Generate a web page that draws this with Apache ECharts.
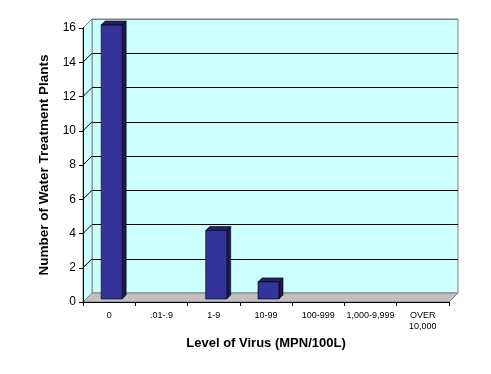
<!DOCTYPE html>
<html>
<head>
<meta charset="utf-8">
<script src="https://cdn.jsdelivr.net/npm/echarts@6/dist/echarts.min.js"></script>
<style>html,body{margin:0;padding:0;background:#fff}#c{width:491px;height:374px}</style>
</head>
<body>
<div id="c"></div>
<script>
// ---- data ----
const categories = ['0', '.01-.9', '1-9', '10-99', '100-999', '1,000-9,999', 'OVER\n10,000'];
const plantCounts = [16, 0, 4, 1, 0, 0, 0];
const yTicks = [0, 2, 4, 6, 8, 10, 12, 14, 16];
const xTitle = 'Level of Virus (MPN/100L)';
const yTitle = 'Number of Water Treatment Plants';

// ---- layout ----
const L = 83, T = 28, W = 366, H = 274, D = 9;
const FONT = 'Arial, "Liberation Sans", sans-serif';

const chart = echarts.init(document.getElementById('c'), null, {renderer: 'canvas'});

function renderBar(params, api) {
  const v = api.value(1);
  if (!v) return null;
  const base = api.coord([api.value(0), 0]);
  const top = api.coord([api.value(0), v]);
  const off = 3, bd = 4;
  const x0 = base[0] - 8, x1 = base[0] + 13;
  const yb = base[1] - off, yt = top[1] - off;
  return {
    type: 'group',
    children: [
      {type: 'polygon', shape: {points: [[x1, yb], [x1 + bd, yb - bd], [x1 + bd, yt - bd], [x1, yt]]},
        style: {fill: '#1a1a4e', stroke: '#000', lineWidth: 0.6}},
      {type: 'polygon', shape: {points: [[x0, yt], [x1, yt], [x1 + bd, yt - bd], [x0 + bd, yt - bd]]},
        style: {fill: '#22225e', stroke: '#000', lineWidth: 0.6}},
      {type: 'rect', shape: {x: x0, y: yt, width: x1 - x0, height: yb - yt},
        style: {fill: '#333399', stroke: '#000', lineWidth: 0.6}}
    ]
  };
}

chart.setOption({
  backgroundColor: '#ffffff',
  animation: false,
  grid: [
    {left: L, top: T, width: W, height: H, containLabel: false},
    {left: L + D, top: T - D, width: W, height: H, show: true, backgroundColor: '#ccffff', borderColor: '#808080', borderWidth: 1, z: 0}
  ],
  xAxis: [
    {type: 'category', gridIndex: 0, data: categories, boundaryGap: true, z: 5,
      axisLine: {show: true, lineStyle: {color: '#000', width: 1}},
      axisTick: {show: true, length: 4, inside: false, lineStyle: {color: '#000'}},
      axisLabel: {interval: 0, fontSize: 9, fontFamily: FONT, color: '#000', margin: 8, lineHeight: 11, align: 'center'},
      name: xTitle, nameLocation: 'middle', nameGap: 34,
      nameTextStyle: {fontSize: 13, fontWeight: 'bold', fontFamily: FONT, color: '#000'}},
    {type: 'category', gridIndex: 1, data: categories, show: false}
  ],
  yAxis: [
    {type: 'value', gridIndex: 0, min: yTicks[0], max: yTicks[yTicks.length - 1], interval: 2, z: 5,
      axisLine: {show: true, lineStyle: {color: '#000', width: 1}},
      axisTick: {show: true, length: 4, lineStyle: {color: '#000'}},
      splitLine: {show: false},
      axisLabel: {fontSize: 12, fontFamily: FONT, color: '#000', margin: 7},
      name: yTitle, nameLocation: 'middle', nameGap: 31, nameRotate: 90,
      nameTextStyle: {fontSize: 13.5, fontWeight: 'bold', fontFamily: FONT, color: '#000'}},
    {type: 'value', gridIndex: 1, min: yTicks[0], max: yTicks[yTicks.length - 1], interval: 2,
      axisLine: {show: false}, axisTick: {show: false}, axisLabel: {show: false},
      splitLine: {show: true, lineStyle: {color: '#000', width: 1}}}
  ],
  series: [{
    type: 'custom', xAxisIndex: 0, yAxisIndex: 0, z: 10,
    renderItem: renderBar,
    data: plantCounts.map((v, i) => [i, v])
  }]
});

// walls & floor derived from the front axis scale
const children = [];
children.push({type: 'polygon', z: 1, shape: {points: [[L, T + H], [L + D, T + H - D], [L + D, T - D], [L, T]]},
  style: {fill: '#ccffff', stroke: '#808080', lineWidth: 1}});
yTicks.forEach(v => {
  const y = chart.convertToPixel({yAxisIndex: 0}, v);
  const edge = (v === yTicks[0] || v === yTicks[yTicks.length - 1]);
  children.push({type: 'line', z: 2, shape: {x1: L, y1: y, x2: L + D, y2: y - D},
    style: {stroke: edge ? '#808080' : '#000', lineWidth: 1}});
});
children.push({type: 'line', z: 3, shape: {x1: L + D, y1: T - D + 0.5, x2: L + D + W, y2: T - D + 0.5}, style: {stroke: '#808080', lineWidth: 1}});
children.push({type: 'polygon', z: 3, shape: {points: [[L, T + H], [L + W, T + H], [L + W + D, T + H - D], [L + D, T + H - D]]},
  style: {fill: '#c0c0c0', stroke: '#808080', lineWidth: 1}});
chart.setOption({graphic: {elements: children}});
</script>
</body>
</html>
